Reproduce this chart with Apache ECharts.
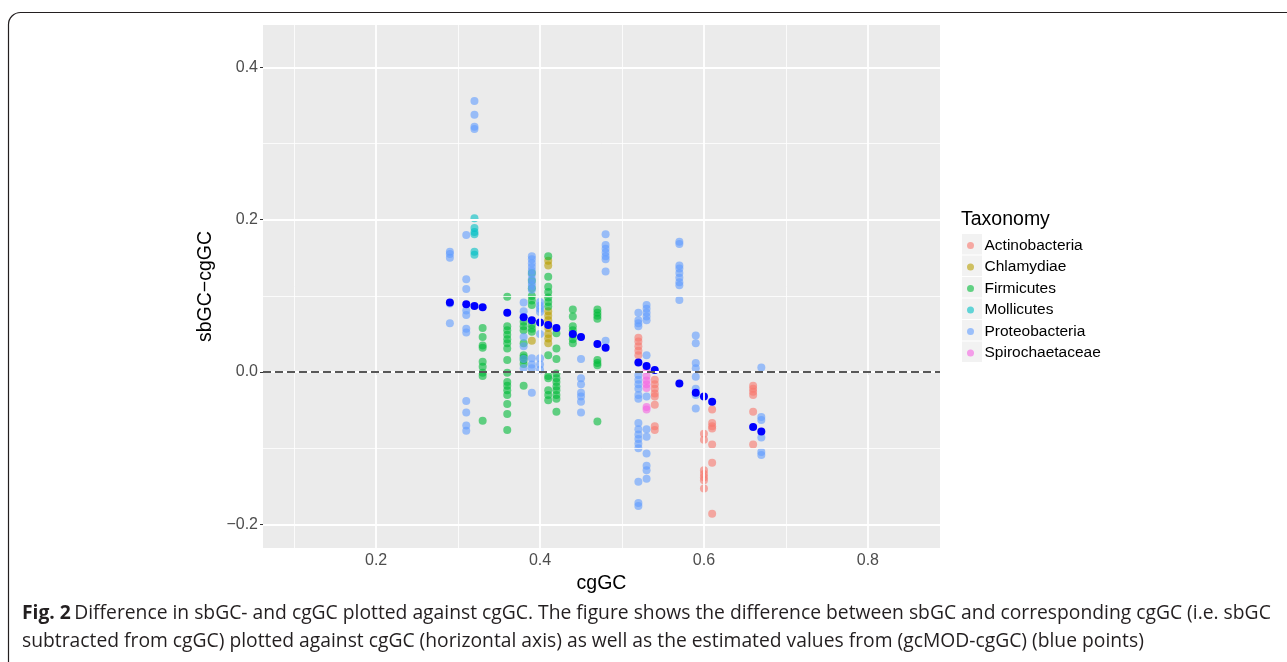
<!DOCTYPE html>
<html><head><meta charset="utf-8">
<script src="https://cdn.jsdelivr.net/npm/echarts@6/dist/echarts.min.js"></script>
<style>html,body{margin:0;padding:0;background:#fff}#c{width:1287px;height:662px}</style>
</head><body><div id="c"></div>
<script>
// ---- data (cgGC, sbGC-cgGC) ----
const taxa = ['Actinobacteria','Chlamydiae','Firmicutes','Mollicutes','Proteobacteria','Spirochaetaceae'];
const taxaColors = ['#F8766D','#B79F00','#00BA38','#00BFC4','#619CFF','#F564E3'];

const actinobacteria = [
  [0.52,0.045],[0.52,0.040],[0.52,0.034],[0.52,0.028],[0.52,0.022],
  [0.54,-0.010],[0.54,-0.016],[0.54,-0.022],[0.54,-0.028],[0.54,-0.032],[0.54,-0.043],[0.54,-0.071],[0.54,-0.076],
  [0.60,-0.081],[0.60,-0.089],[0.60,-0.129],[0.60,-0.134],[0.60,-0.138],[0.60,-0.142],[0.60,-0.153],
  [0.61,-0.049],[0.61,-0.067],[0.61,-0.071],[0.61,-0.074],[0.61,-0.095],[0.61,-0.119],[0.61,-0.186],
  [0.66,-0.018],[0.66,-0.022],[0.66,-0.026],[0.66,-0.030],[0.66,-0.052],[0.66,-0.095]
];
const chlamydiae = [
  [0.39,0.041],
  [0.41,0.146],[0.41,0.140],[0.41,0.080],[0.41,0.074],[0.41,0.068],[0.41,0.058],[0.41,0.050],[0.41,0.044],[0.41,0.038]
];
const firmicutes = [
  [0.33,0.058],[0.33,0.046],[0.33,0.035],[0.33,0.032],[0.33,0.0135],[0.33,0.007],[0.33,-0.001],[0.33,-0.005],[0.33,-0.064],
  [0.36,0.099],[0.36,0.060],[0.36,0.055],[0.36,0.049],[0.36,0.043],[0.36,0.038],[0.36,0.031],[0.36,0.016],[0.36,-0.001],
  [0.36,-0.013],[0.36,-0.018],[0.36,-0.024],[0.36,-0.030],[0.36,-0.042],[0.36,-0.055],[0.36,-0.076],
  [0.38,0.066],[0.38,0.060],[0.38,0.055],[0.38,0.038],[0.38,0.022],[0.38,0.019],[0.38,0.016],[0.38,0.0105],[0.38,-0.018],
  [0.39,0.130],[0.39,0.120],[0.39,0.110],[0.39,0.100],[0.39,0.094],[0.39,0.088],[0.39,0.062],[0.39,0.057],[0.39,0.053],
  [0.41,0.152],[0.41,0.125],[0.41,0.112],[0.41,0.105],[0.41,0.098],[0.41,0.092],[0.41,0.086],[0.41,0.022],[0.41,-0.005],
  [0.41,-0.008],[0.41,-0.024],[0.41,-0.030],[0.41,-0.037],
  [0.42,0.051],[0.42,0.031],[0.42,0.017],[0.42,-0.002],[0.42,-0.008],[0.42,-0.013],[0.42,-0.019],[0.42,-0.024],
  [0.42,-0.030],[0.42,-0.035],[0.42,-0.052],
  [0.44,0.082],[0.44,0.073],[0.44,0.060],[0.44,0.055],[0.44,0.049],[0.44,0.043],[0.44,0.038],
  [0.47,0.082],[0.47,0.078],[0.47,0.074],[0.47,0.070],[0.47,0.016],[0.47,0.012],[0.47,0.009],[0.47,-0.065]
];
const mollicutes = [
  [0.32,0.202],[0.32,0.189],[0.32,0.184],[0.32,0.181],[0.32,0.158],[0.32,0.154]
];
const proteobacteria = [
  [0.29,0.158],[0.29,0.155],[0.29,0.150],[0.29,0.090],[0.29,0.064],
  [0.31,0.180],[0.31,0.122],[0.31,0.109],[0.31,0.081],[0.31,0.075],[0.31,0.057],[0.31,0.052],
  [0.31,-0.038],[0.31,-0.053],[0.31,-0.070],[0.31,-0.077],
  [0.32,0.356],[0.32,0.338],[0.32,0.322],[0.32,0.319],
  [0.38,0.0915],[0.38,0.080],[0.38,0.046],[0.38,0.034],[0.38,0.017],[0.38,0.005],
  [0.39,0.152],[0.39,0.148],[0.39,0.143],[0.39,0.138],[0.39,0.133],[0.39,0.128],[0.39,0.122],[0.39,0.117],
  [0.39,0.113],[0.39,0.108],[0.39,0.018],[0.39,0.010],[0.39,0.005],[0.39,-0.027],
  [0.40,0.092],[0.40,0.087],[0.40,0.083],[0.40,0.079],[0.40,0.050],[0.40,0.018],[0.40,0.010],[0.40,0.003],
  [0.45,0.017],[0.45,-0.008],[0.45,-0.016],[0.45,-0.027],[0.45,-0.032],[0.45,-0.039],[0.45,-0.053],
  [0.48,0.181],[0.48,0.167],[0.48,0.162],[0.48,0.157],[0.48,0.152],[0.48,0.148],[0.48,0.132],[0.48,0.041],
  [0.52,0.078],[0.52,0.068],[0.52,0.064],[0.52,0.060],[0.52,-0.004],[0.52,-0.010],[0.52,-0.016],[0.52,-0.022],
  [0.52,-0.030],[0.52,-0.035],[0.52,-0.067],[0.52,-0.075],[0.52,-0.082],[0.52,-0.088],[0.52,-0.094],[0.52,-0.100],
  [0.52,-0.144],[0.52,-0.172],[0.52,-0.176],
  [0.53,0.088],[0.53,0.083],[0.53,0.078],[0.53,0.073],[0.53,0.068],[0.53,0.022],[0.53,-0.032],[0.53,-0.075],
  [0.53,-0.085],[0.53,-0.107],[0.53,-0.123],[0.53,-0.129],[0.53,-0.140],
  [0.57,0.171],[0.57,0.168],[0.57,0.140],[0.57,0.136],[0.57,0.130],[0.57,0.124],[0.57,0.118],[0.57,0.114],[0.57,0.0945],
  [0.59,0.048],[0.59,0.038],[0.59,0.012],[0.59,0.005],[0.59,-0.006],[0.59,-0.022],[0.59,-0.030],[0.59,-0.048],
  [0.67,0.006],[0.67,-0.059],[0.67,-0.063],[0.67,-0.086],[0.67,-0.105],[0.67,-0.109]
];
const spirochaetaceae = [
  [0.53,0.003],[0.53,-0.005],[0.53,-0.011],[0.53,-0.016],[0.53,-0.021],[0.53,-0.046],[0.53,-0.049]
];
// estimated values (gcMOD - cgGC), blue points
const estimated = [
  [0.29,0.0915],[0.31,0.089],[0.32,0.0867],[0.33,0.085],[0.36,0.078],[0.38,0.072],[0.39,0.068],[0.40,0.065],
  [0.41,0.0617],[0.42,0.058],[0.44,0.050],[0.45,0.046],[0.47,0.037],[0.48,0.032],[0.52,0.0127],[0.53,0.0079],
  [0.54,0.0026],[0.57,-0.015],[0.59,-0.027],[0.60,-0.032],[0.61,-0.039],[0.66,-0.072],[0.67,-0.078]
];
const taxaData = [actinobacteria, chlamydiae, firmicutes, mollicutes, proteobacteria, spirochaetaceae];

// axes
const xTicks = [0.2, 0.4, 0.6, 0.8];
const xMinor = [0.1, 0.3, 0.5, 0.7];
const yTicks = [-0.2, 0.0, 0.2, 0.4];
const yMinor = [-0.1, 0.1, 0.3];
const xRange = [0.062, 0.888];
const yRange = [-0.231, 0.4557];

// ---- chart ----
const chart = echarts.init(document.getElementById('c'), null, {renderer: 'canvas'});
const FONT = 'Liberation Sans, Arial, sans-serif';
const CAP = 'Open Sans, sans-serif';

const gridLines = [];
xMinor.forEach(v => gridLines.push({xAxis: v, lineStyle: {width: 0.8}}));
yMinor.forEach(v => gridLines.push({yAxis: v, lineStyle: {width: 0.8}}));
xTicks.forEach(v => gridLines.push({xAxis: v, lineStyle: {width: 1.8}}));
yTicks.forEach(v => gridLines.push({yAxis: v, lineStyle: {width: 1.8}}));

const series = [{
  type: 'scatter', name: '_grid', data: [], z: 1, silent: true,
  markLine: {silent: true, symbol: ['none','none'], label: {show: false},
    lineStyle: {color: '#FFFFFF', type: 'solid'}, animation: false, data: gridLines}
}];
taxa.forEach((t, i) => series.push({
  type: 'scatter', name: t, data: taxaData[i], symbol: 'circle', symbolSize: 8, z: 2,
  itemStyle: {color: taxaColors[i], opacity: 0.6}
}));
series.push({
  type: 'scatter', name: '_zero', data: [], z: 3, silent: true,
  markLine: {silent: true, symbol: ['none','none'], label: {show: false}, animation: false,
    lineStyle: {color: '#222222', type: [8, 4], width: 1.6}, data: [{yAxis: 0}]}
});
series.push({
  type: 'scatter', name: 'estimated', data: estimated, symbol: 'circle', symbolSize: 8, z: 4,
  itemStyle: {color: '#0000FF', opacity: 1}
});

const legendRows = [244, 265.5, 287, 308.5, 330, 351.5];
const graphics = [
  {type: 'rect', shape: {x: 8.5, y: 12.5, width: 1320, height: 700, r: 12},
   style: {fill: 'none', stroke: '#231F20', lineWidth: 1.2}, silent: true},
  {type: 'text', left: 961, top: 210, style: {text: 'Taxonomy', font: '19.5px Liberation Sans, Arial, sans-serif', fill: '#000'}},
  {type: 'text', left: 22, top: 604, style: {
    rich: {b: {fontWeight: 'bold', fontFamily: CAP, fontSize: 19.3, fill: '#231F20'},
           n: {fontFamily: CAP, fontSize: 19.3, fill: '#231F20'}},
    text: '{b|Fig. 2} {n|Difference in sbGC- and cgGC plotted against cgGC. The figure shows the difference between sbGC and corresponding cgGC (i.e. sbGC}'
  }},
  {type: 'text', left: 22, top: 632, style: {
    text: 'subtracted from cgGC) plotted against cgGC (horizontal axis) as well as the estimated values from (gcMOD-cgGC) (blue points)',
    font: '19.3px Open Sans, sans-serif', fill: '#231F20'}}
];
legendRows.forEach(cy => graphics.push({type: 'rect', z: -1, shape: {x: 962, y: cy - 10, width: 20, height: 20.5},
  style: {fill: '#F2F2F2'}, silent: true}));

chart.setOption({
  animation: false,
  backgroundColor: '#FFFFFF',
  grid: {left: 263, top: 25, width: 677, height: 523, show: true, backgroundColor: '#EBEBEB', borderWidth: 0},
  xAxis: {
    type: 'value', min: xRange[0], max: xRange[1],
    name: 'cgGC', nameLocation: 'middle', nameGap: 23,
    nameTextStyle: {fontFamily: FONT, fontSize: 19.5, color: '#000'},
    axisLine: {show: false}, splitLine: {show: false},
    axisTick: {show: true, length: 3, lineStyle: {color: '#333', width: 1}, customValues: xTicks},
    axisLabel: {fontFamily: FONT, fontSize: 16, color: '#4D4D4D', margin: 5, customValues: xTicks,
      formatter: v => v.toFixed(1)}
  },
  yAxis: {
    type: 'value', min: yRange[0], max: yRange[1],
    name: 'sbGC\u2212cgGC', nameLocation: 'middle', nameGap: 46, nameRotate: 90,
    nameTextStyle: {fontFamily: FONT, fontSize: 19.5, color: '#000'},
    axisLine: {show: false}, splitLine: {show: false},
    axisTick: {show: true, length: 3, lineStyle: {color: '#333', width: 1}, customValues: yTicks},
    axisLabel: {fontFamily: FONT, fontSize: 16, color: '#4D4D4D', margin: 5, customValues: yTicks,
      formatter: v => (v < 0 ? '\u2212' : '') + Math.abs(v).toFixed(1)}
  },
  legend: {
    orient: 'vertical', left: 962, top: 232, data: taxa,
    icon: 'circle', itemWidth: 20, itemHeight: 7, itemGap: 4.5, itemStyle: {opacity: 0.6},
    textStyle: {fontFamily: FONT, fontSize: 15.5, color: '#000', lineHeight: 17, padding: [0, 0, 0, -1]},
    selectedMode: false
  },
  graphic: graphics,
  series: series
});
</script></body></html>
